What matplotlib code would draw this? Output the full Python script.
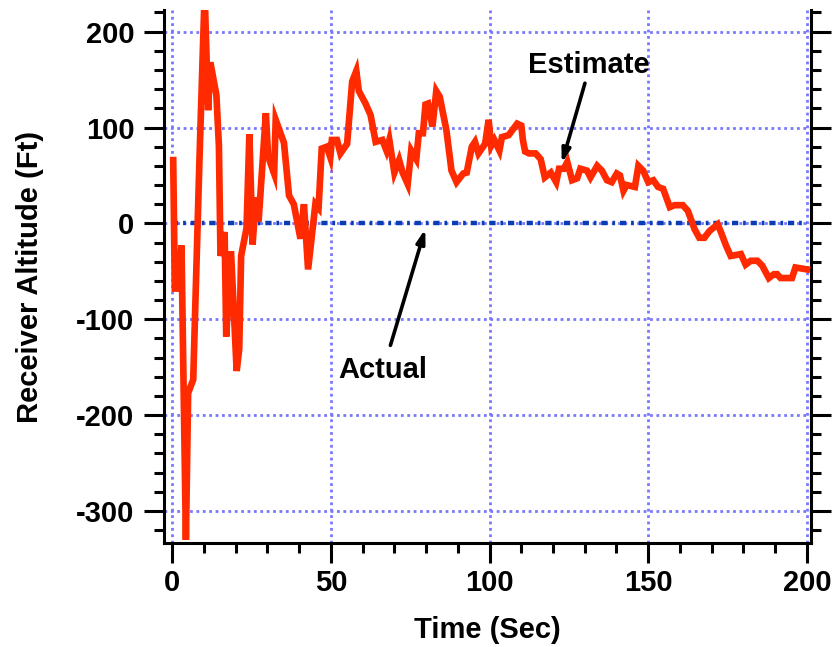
import matplotlib
matplotlib.use("Agg")
import matplotlib.pyplot as plt
from matplotlib.ticker import MultipleLocator

plt.rcParams['font.family'] = ['Liberation Sans', 'DejaVu Sans']
plt.rcParams['font.weight'] = 'bold'
plt.rcParams['axes.unicode_minus'] = False

# ---------------------------------------------------------------
# Datos: altitud estimada del receptor vs. tiempo
# ---------------------------------------------------------------
tiempo = [0.3, 0.8, 1.9, 2.9, 4.3, 5.0, 6.6, 8.6, 10.2, 11.3, 12.0, 13.9,
          14.7, 15.2, 16.5, 17.0, 18.5, 20.3, 21.1, 21.7, 23.4, 24.3, 25.3,
          26.4, 27.2, 29.5, 30.2, 32.1, 32.6, 35.2, 36.8, 38.3, 40.4, 41.5,
          42.8, 45.1, 46.1, 47.1, 48.7, 49.8, 50.3, 51.9, 53.0, 55.1, 56.7,
          58.0, 58.8, 60.9, 62.5, 64.1, 66.2, 67.5, 68.4, 70.0, 71.5, 72.6,
          74.2, 75.3, 76.9, 77.7, 79.0, 79.8, 80.6, 82.0, 83.2, 84.3, 86.4,
          88.0, 89.6, 91.7, 92.8, 94.4, 95.4, 96.5, 98.6, 99.7, 100.5, 101.5,
          103.1, 103.9, 106.0, 108.7, 110.0, 110.5, 111.2, 112.4, 114.5,
          116.1, 117.4, 119.3, 121.0, 121.9, 123.4, 124.5, 126.0, 127.6,
          128.6, 130.7, 131.8, 133.9, 135.4, 137.0, 138.5, 140.1, 141.1,
          142.2, 143.2, 145.8, 146.9, 148.4, 150.0, 151.6, 153.1, 154.7,
          156.8, 158.3, 160.9, 162.5, 164.6, 166.1, 167.7, 169.3, 171.9,
          172.9, 174.5, 176.0, 179.2, 180.7, 182.3, 184.4, 185.9, 188.0,
          189.6, 190.6, 191.7, 195.3, 196.4, 200.0]
estimada = [66, -68, -68, -23, -330, -177, -163, 70, 240, 118, 168, 134,
            81, -34, -9, -118, -29, -154, -131, -34, -5, 93, -22,
            27, 2, 115, 70, 52, 108, 84, 29, 20, -16, 20,
            -48, 20, 16, 78, 80, 69, 87, 87, 73, 83, 148,
            159, 138, 125, 113, 85, 87, 76, 87, 53, 66, 53,
            41, 76, 67, 94, 94, 124, 125, 101, 138, 132, 97,
            55, 43, 52, 53, 80, 85, 73, 83, 108, 81, 87,
            76, 90, 92, 104, 102, 87, 75, 73, 73,
            67, 48, 53, 43, 57, 57, 64, 45, 47,
            57, 55, 48, 60, 55, 45, 43, 52, 50,
            34, 40, 38, 60, 55, 43, 45, 38, 36,
            17, 19, 19, 13, -6, -15, -15, -8, -1,
            -9, -23, -34, -32, -43, -39, -39, -44, -57,
            -53, -53, -57, -57, -46, -48]

tiempo_real = [0, 200]
altitud_real = [0, 0]

xticks = [0, 50, 100, 150, 200]
yticks = [-300, -200, -100, 0, 100, 200]

# ---------------------------------------------------------------
# Figura
# ---------------------------------------------------------------
fig = plt.figure(figsize=(8.33, 6.47), dpi=100)
ax = fig.add_axes([0.1969, 0.1607, 0.9736 - 0.1969, 0.9846 - 0.1607])

grid_kw = dict(color='#7878ff', lw=2.0, ls=(0, (1, 1.3)), zorder=1)
for x in xticks:
    ax.axvline(x, **grid_kw)
for y in yticks:
    ax.axhline(y, **grid_kw)

ax.plot(tiempo_real, altitud_real, color='#0a3cb4', lw=3.2,
        ls=(0, (1.4, 1.1, 0.6, 1.1)), zorder=2)
ax.plot(tiempo, estimada, color='#ff2a00', lw=4.8,
        solid_joinstyle='miter', zorder=3)

ax.set_xlim(-2.6, 201.3)
ax.set_ylim(-333.4, 222.6)

ax.set_xticks(xticks)
ax.set_yticks(yticks)
ax.xaxis.set_minor_locator(MultipleLocator(10))
ax.yaxis.set_minor_locator(MultipleLocator(20))

ax.spines['top'].set_visible(False)
for s in ['left', 'right', 'bottom']:
    ax.spines[s].set_linewidth(2.2)

ax.tick_params(which='both', direction='out', width=2.2, right=True,
               labelright=False, labelsize=21)
ax.tick_params(which='major', length=14.4)
ax.tick_params(which='minor', length=7.2)
ax.tick_params(axis='y', which='major', pad=7)
ax.tick_params(axis='x', which='major', pad=4)

ax.set_xlabel('Time (Sec)', fontsize=21, fontweight='bold', labelpad=14)
ax.set_ylabel('Receiver Altitude (Ft)', fontsize=21, fontweight='bold',
              labelpad=23)

# Anotaciones
ax.text(131.2, 157, 'Estimate', fontsize=21, fontweight='bold',
        ha='center', va='baseline')
ax.annotate('', xy=(122.5, 60), xytext=(130.3, 149),
            arrowprops=dict(arrowstyle='-|>,head_length=0.8,head_width=0.25',
                            color='black', lw=2.6))
ax.text(66.3, -161, 'Actual', fontsize=21, fontweight='bold',
        ha='center', va='baseline')
ax.annotate('', xy=(80, -3), xytext=(68.5, -130),
            arrowprops=dict(arrowstyle='-|>,head_length=0.8,head_width=0.25',
                            color='black', lw=2.6))

fig.savefig('out.png', dpi=100)
